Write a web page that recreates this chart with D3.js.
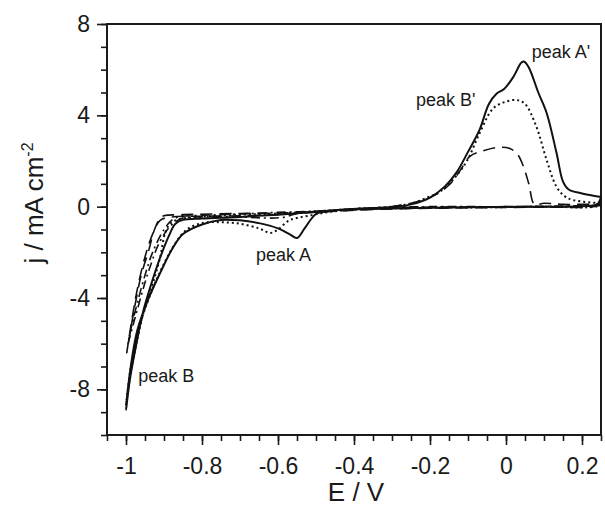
<!DOCTYPE html>
<html>
<head>
<meta charset="utf-8">
<script src="https://cdn.jsdelivr.net/npm/d3@7"></script>
<style>
  body { margin: 0; background: #fff; }
  svg text { font-family: "Liberation Sans", Arial, sans-serif; fill: #1a1a1a; }
</style>
</head>
<body>
<svg id="vis" width="605" height="509"></svg>
<script>
// cyclic voltammograms, each as [E (V), j (mA cm-2)] in scan order
const solidCurve = [
  [0.25, 0.42], [0.24, 0.1], [0.2, 0.02], [0.1, 0.0], [0.0, -0.01], [-0.1, -0.03],
  [-0.2, -0.05], [-0.3, -0.08], [-0.4, -0.12], [-0.47, -0.2], [-0.5, -0.32],
  [-0.53, -0.95], [-0.55, -1.37], [-0.57, -1.2], [-0.6, -0.95], [-0.65, -0.72],
  [-0.7, -0.6], [-0.75, -0.58], [-0.8, -0.78], [-0.85, -1.2], [-0.88, -1.9],
  [-0.91, -2.9], [-0.94, -4.0], [-0.97, -5.4], [-0.99, -7.3], [-1.0, -8.9],
  [-0.99, -7.6], [-0.975, -6.2], [-0.955, -4.6], [-0.93, -3.2], [-0.905, -2.0],
  [-0.885, -1.2], [-0.87, -0.75], [-0.85, -0.58], [-0.8, -0.52], [-0.7, -0.45],
  [-0.6, -0.35], [-0.5, -0.22], [-0.4, -0.1], [-0.3, -0.02], [-0.25, 0.1],
  [-0.2, 0.4], [-0.16, 0.9], [-0.13, 1.5], [-0.1, 2.4], [-0.07, 3.35],
  [-0.045, 4.5], [-0.025, 4.95], [-0.005, 5.15], [0.02, 5.7], [0.04, 6.3],
  [0.048, 6.35], [0.06, 6.1], [0.085, 5.0], [0.107, 4.1], [0.133, 2.35],
  [0.15, 1.1], [0.165, 0.75], [0.2, 0.58], [0.25, 0.42]
];

const dottedCurve = [
  [0.25, 0.15], [0.24, 0.02], [0.1, 0.0], [0.0, -0.02], [-0.2, -0.05],
  [-0.35, -0.1], [-0.45, -0.2], [-0.52, -0.4], [-0.57, -0.6], [-0.6, -1.0],
  [-0.62, -1.15], [-0.65, -0.95], [-0.7, -0.75], [-0.75, -0.68], [-0.8, -0.72],
  [-0.84, -1.0], [-0.87, -1.6], [-0.9, -2.5], [-0.93, -3.6], [-0.96, -5.0],
  [-0.985, -6.8], [-1.0, -8.7],
  [-0.99, -7.5], [-0.97, -5.8], [-0.95, -4.4], [-0.93, -3.4], [-0.91, -2.2],
  [-0.897, -1.15], [-0.884, -0.75], [-0.86, -0.55], [-0.8, -0.45], [-0.7, -0.35],
  [-0.6, -0.3], [-0.5, -0.2], [-0.4, -0.1], [-0.3, 0.0], [-0.245, 0.16],
  [-0.2, 0.45], [-0.174, 0.65], [-0.14, 1.17], [-0.103, 2.0], [-0.07, 3.2],
  [-0.034, 4.3], [0.0, 4.6], [0.028, 4.67], [0.05, 4.5], [0.08, 3.5],
  [0.107, 2.04], [0.133, 0.87], [0.155, 0.45], [0.176, 0.29], [0.25, 0.15]
];

const dashedCurve = [
  [0.25, 0.12], [0.23, 0.0], [0.1, -0.02], [-0.1, -0.05], [-0.3, -0.1],
  [-0.45, -0.2], [-0.55, -0.3], [-0.6, -0.35], [-0.7, -0.4], [-0.8, -0.42],
  [-0.88, -0.45], [-0.91, -0.6], [-0.93, -1.2], [-0.95, -2.2], [-0.97, -3.6],
  [-0.985, -5.0], [-0.998, -6.4],
  [-0.99, -5.6], [-0.975, -4.2], [-0.96, -3.0], [-0.94, -1.9], [-0.925, -1.0],
  [-0.91, -0.5], [-0.9, -0.4], [-0.85, -0.35], [-0.7, -0.3], [-0.6, -0.28],
  [-0.5, -0.22], [-0.4, -0.1], [-0.3, 0.0], [-0.2, 0.4], [-0.15, 0.95],
  [-0.12, 1.6], [-0.095, 2.2], [-0.06, 2.45], [-0.02, 2.6], [0.01, 2.55],
  [0.03, 2.3], [0.045, 1.8], [0.06, 1.0], [0.075, 0.1], [0.1, 0.15],
  [0.15, 0.1], [0.25, 0.12]
];

const dashDotCurve = [
  [0.25, 0.05], [0.0, 0.0], [-0.2, -0.02], [-0.35, -0.05], [-0.45, -0.15],
  [-0.55, -0.3], [-0.58, -0.45], [-0.62, -0.5], [-0.7, -0.45], [-0.8, -0.45],
  [-0.85, -0.5], [-0.88, -0.8], [-0.91, -1.5], [-0.94, -2.8], [-0.96, -3.9],
  [-0.98, -5.1], [-0.995, -6.0],
  [-0.985, -5.2], [-0.97, -4.2], [-0.95, -3.0], [-0.93, -2.0], [-0.9, -1.0],
  [-0.88, -0.6], [-0.86, -0.45], [-0.8, -0.38], [-0.7, -0.32], [-0.6, -0.25],
  [-0.5, -0.2], [-0.4, -0.1], [-0.3, -0.02], [-0.2, 0.0], [0.0, 0.0],
  [0.2, 0.02], [0.25, 0.05]
];

const xMajorTicks = [-1, -0.8, -0.6, -0.4, -0.2, 0, 0.2];
const yMajorTicks = [-8, -4, 0, 4, 8];
const peakLabels = [
  {text: "peak A'", E: 0.068, j: 6.5},
  {text: "peak B'", E: -0.237, j: 4.4},
  {text: "peak A", E: -0.658, j: -2.4},
  {text: "peak B", E: -0.968, j: -7.67}
];

const margin = {top: 24, right: 4, bottom: 74, left: 107},
  width = 605 - margin.left - margin.right,
  height = 509 - margin.top - margin.bottom;

const svg = d3.select("svg#vis");
const plot = svg.append("g")
  .attr("transform", "translate(" + margin.left + "," + margin.top + ")");

const x = d3.scaleLinear().domain([-1.05, 0.25]).range([0, width]);
const y = d3.scaleLinear().domain([-10, 8]).range([height, 0]);

// plain hyphen for negative numbers, like the original figure
const fmt = d => String(+(+d).toFixed(1));

// minor ticks every 0.05 V and 1 mA cm-2
const xMinor = d3.range(-1.05, 0.2501, 0.05).map(v => +v.toFixed(2));
const yMinor = d3.range(-10, 8.01, 1);

plot.append("g")
  .attr("transform", "translate(0," + height + ")")
  .call(d3.axisBottom(x).tickValues(xMinor).tickSize(6).tickFormat(""))
  .call(g => g.select(".domain").remove());
plot.append("g")
  .attr("transform", "translate(0," + height + ")")
  .call(d3.axisBottom(x).tickValues(xMajorTicks).tickSize(10).tickPadding(13).tickFormat(fmt))
  .call(g => g.select(".domain").remove())
  .selectAll("text").style("font-size", "23px");

plot.append("g")
  .call(d3.axisLeft(y).tickValues(yMinor).tickSize(6).tickFormat(""))
  .call(g => g.select(".domain").remove());
plot.append("g")
  .call(d3.axisLeft(y).tickValues(yMajorTicks).tickSize(10).tickPadding(7).tickFormat(fmt))
  .call(g => g.select(".domain").remove())
  .selectAll("text").style("font-size", "23px");

plot.selectAll(".tick line").attr("stroke", "#1a1a1a").attr("stroke-width", 1.6);

// frame
plot.append("rect")
  .attr("width", width).attr("height", height)
  .attr("fill", "none").attr("stroke", "#1a1a1a").attr("stroke-width", 2);

const line = d3.line()
  .x(d => x(d[0]))
  .y(d => y(d[1]))
  .curve(d3.curveCatmullRom.alpha(0.5));

plot.append("clipPath").attr("id", "clip")
  .append("rect").attr("width", width).attr("height", height);

const curves = [
  {data: dashDotCurve, dash: "9,4,2,4", w: 1.6},
  {data: dashedCurve, dash: "12,7", w: 1.6},
  {data: dottedCurve, dash: "2,3", w: 2},
  {data: solidCurve, dash: null, w: 2}
];

plot.append("g").attr("clip-path", "url(#clip)")
  .selectAll("path.cv")
  .data(curves)
  .enter()
  .append("path")
  .attr("class", "cv")
  .attr("d", d => line(d.data))
  .attr("fill", "none")
  .attr("stroke", "#111")
  .attr("stroke-width", d => d.w)
  .attr("stroke-dasharray", d => d.dash);

plot.selectAll("text.peak")
  .data(peakLabels)
  .enter()
  .append("text")
  .attr("class", "peak")
  .attr("x", d => x(d.E))
  .attr("y", d => y(d.j))
  .style("font-size", "18px")
  .text(d => d.text);

// axis titles
svg.append("text")
  .attr("x", margin.left + width / 2 + 2)
  .attr("y", 501)
  .attr("text-anchor", "middle")
  .style("font-size", "26px")
  .text("E / V");

const yTitle = svg.append("text")
  .attr("transform", "translate(43,203) rotate(-90)")
  .attr("text-anchor", "middle")
  .style("font-size", "26px");
yTitle.append("tspan").text("j / mA cm");
yTitle.append("tspan").attr("dy", -10).style("font-size", "16px").text("-2");
</script>
</body>
</html>
